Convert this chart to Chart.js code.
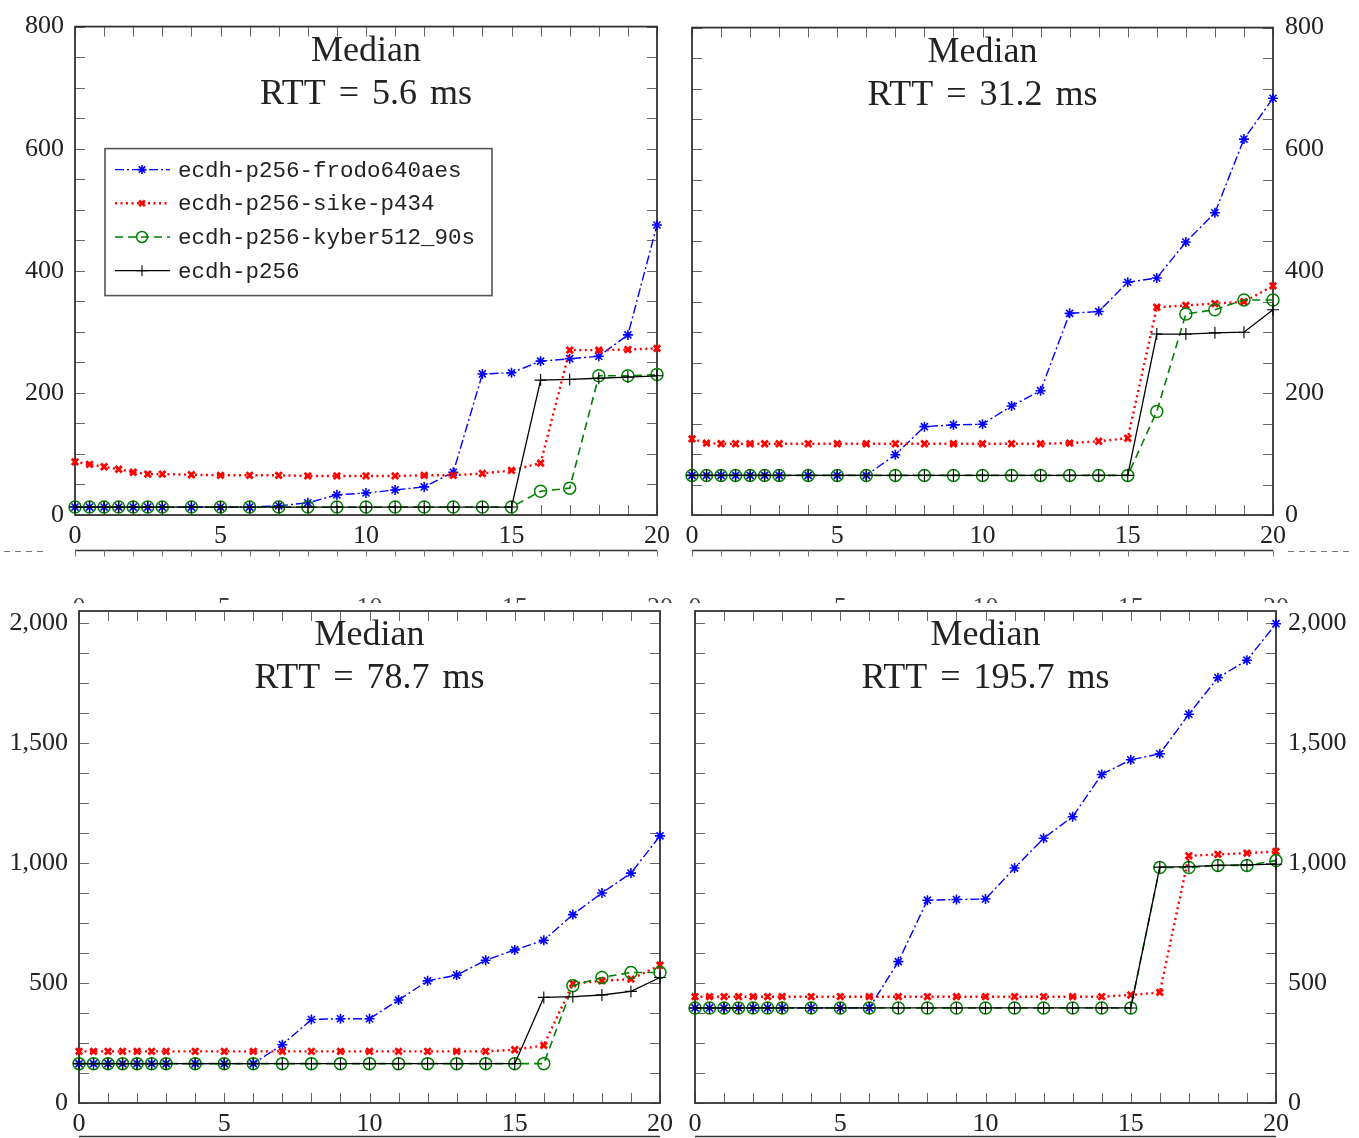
<!DOCTYPE html>
<html><head><meta charset="utf-8">
<script src="https://cdn.jsdelivr.net/npm/chart.js@4.4.1/dist/chart.umd.min.js"></script>
<style>
html,body{margin:0;padding:0;background:#fff;}
#wrap{position:relative;width:1359px;height:1138px;overflow:hidden;background:#fff;}
canvas{position:absolute;left:0;top:0;}
</style></head><body><div id="wrap">
<canvas id="c1" width="1359" height="1138"></canvas>
<canvas id="c2" width="1359" height="1138"></canvas>
<canvas id="c3" width="1359" height="1138"></canvas>
<canvas id="c4" width="1359" height="1138"></canvas>
</div>
<script>
// ---- data ----
const xValues = [0,0.5,1,1.5,2,2.5,3,4,5,6,7,8,9,10,11,12,13,14,15,16,17,18,19,20];
const seriesNames = ['ecdh-p256-frodo640aes','ecdh-p256-sike-p434','ecdh-p256-kyber512_90s','ecdh-p256'];
const panelHeading = 'Median';
const panelRtt = ['RTT = 5.6 ms','RTT = 31.2 ms','RTT = 78.7 ms','RTT = 195.7 ms'];
const xTickValues = [0,5,10,15,20];
const yTicksTop = [0,200,400,600,800];
const yTicksBottom = [0,500,1000,1500,2000];

// RTT 5.6 ms
const frodo1 = [13,13,13,13,13,13,13,13,13,13,15,20,33,36,41,46,70,231,233,252,256,260,295,475];
const sike1  = [87,83,79,75,70,67,67,66,65,65,65,64,64,64,64,65,65,68,73,85,270,270,271,273];
const kyber1 = [13,13,13,13,13,13,13,13,13,13,13,13,13,13,13,13,13,13,13,39,44,228,228,230];
const ecdh1  = [13,13,13,13,13,13,13,13,13,13,13,13,13,13,13,13,13,13,13,221,222,224,226,228];
// RTT 31.2 ms
const frodo2 = [65,65,65,65,65,65,65,65,65,65,99,145,148,149,179,204,331,334,382,389,448,496,617,684];
const sike2  = [125,118,117,117,117,117,117,117,117,117,117,117,117,117,117,117,118,121,126,341,344,347,350,376];
const kyber2 = [65,65,65,65,65,65,65,65,65,65,65,65,65,65,65,65,65,65,65,170,330,337,353,353];
const ecdh2  = [65,65,65,65,65,65,65,65,65,65,65,65,65,65,65,65,65,65,65,297,297,299,300,337];
// RTT 78.7 ms
const frodo3 = [164,164,164,164,164,164,164,164,164,164,243,348,351,351,429,509,533,595,638,678,785,875,958,1113];
const sike3  = [215,215,215,215,215,215,215,215,215,215,215,215,215,215,215,215,215,215,222,240,498,509,516,574];
const kyber3 = [164,164,164,164,164,164,164,164,164,164,164,164,164,164,164,164,164,164,164,164,489,523,544,544];
const ecdh3  = [164,164,164,164,164,164,164,164,164,164,164,164,164,164,164,164,164,164,164,440,443,450,465,523];
// RTT 195.7 ms
const frodo4 = [396,396,396,396,396,396,396,396,396,396,589,845,848,850,979,1103,1193,1369,1430,1455,1620,1772,1845,1997];
const sike4  = [443,443,443,443,443,443,443,443,443,443,443,443,443,443,443,443,443,443,450,461,1030,1036,1041,1048];
const kyber4 = [396,396,396,396,396,396,396,396,396,396,396,396,396,396,396,396,396,396,396,981,981,990,990,1010];
const ecdh4  = [396,396,396,396,396,396,396,396,396,396,396,396,396,396,396,396,396,396,396,983,985,990,992,995];

// ---- styles ----
const seriesStyles = [
  {color:'#0000ff', width:1.4, dash:[9,3,2,3], point:'star', radius:5, pbw:1.6, order:4},
  {color:'#ff0000', width:2.4, dash:[2,3.5], point:'crossRot', radius:4.5, pbw:2.8, order:3},
  {color:'#008000', width:1.6, dash:[8,5], point:'circle', radius:6, pbw:1.5, order:2},
  {color:'#000000', width:1.3, dash:[], point:'cross', radius:6, pbw:1.1, order:1}
];
const SERIF = '"Liberation Serif", "Times New Roman", serif';
const MONO = '"Liberation Mono", "DejaVu Sans Mono", monospace';

function makeDatasets(arrs){
  return arrs.map((arr,i)=>{
    const s = seriesStyles[i];
    return {
      label: seriesNames[i],
      data: xValues.map((x,k)=>({x:x, y:arr[k]})),
      borderColor: s.color, backgroundColor: s.color,
      borderWidth: s.width, borderDash: s.dash,
      pointStyle: s.point, pointRadius: s.radius, pointBorderWidth: s.pbw,
      pointBorderColor: s.color,
      pointBackgroundColor: s.point==='circle' ? 'rgba(0,0,0,0)' : s.color,
      tension: 0, fill:false, clip:false, order: s.order
    };
  });
}

const framePlugin = {
  id:'frame',
  beforeDatasetsDraw(chart, args, opts){
    const ctx = chart.ctx, a = chart.chartArea;
    const xs = chart.scales.x, ys = chart.scales.y;
    ctx.save();
    ctx.strokeStyle = '#666'; ctx.lineWidth = 1;
    const TL = 10;
    for (let v = 0; v <= 20; v += 1){
      const px = Math.round(xs.getPixelForValue(v))+0.5;
      ctx.beginPath(); ctx.moveTo(px, a.bottom); ctx.lineTo(px, a.bottom-TL);
      ctx.moveTo(px, a.top); ctx.lineTo(px, a.top+TL); ctx.stroke();
    }
    for (let v = 0; v <= opts.yMinorMax; v += opts.yMinor){
      const py = Math.round(ys.getPixelForValue(v))+0.5;
      ctx.beginPath(); ctx.moveTo(a.left, py); ctx.lineTo(a.left+TL, py);
      ctx.moveTo(a.right, py); ctx.lineTo(a.right-TL, py); ctx.stroke();
    }
    ctx.strokeStyle = '#333'; ctx.lineWidth = 1.8;
    ctx.strokeRect(a.left, a.top, a.right-a.left, a.bottom-a.top);
    ctx.restore();
  },
  afterDraw(chart, args, opts){
    const ctx = chart.ctx, a = chart.chartArea;
    const xs = chart.scales.x;
    const cx = (a.left + a.right)/2;
    ctx.save();
    ctx.fillStyle = '#222';
    ctx.textAlign = 'center'; ctx.textBaseline = 'middle';
    ctx.font = '36px ' + SERIF;
    ctx.fillText(panelHeading, cx, a.top + 25);
    ctx.wordSpacing = '4px';
    ctx.fillText(opts.rtt, cx, a.top + 68);
    ctx.wordSpacing = '0px';

    // stray remnants of neighbouring axes (from the source image)
    ctx.strokeStyle = '#333'; ctx.lineWidth = 1.6;
    if (opts.row === 0){
      const ly = a.bottom + 35.5;
      ctx.beginPath(); ctx.moveTo(a.left, ly); ctx.lineTo(a.right, ly); ctx.stroke();
      ctx.lineWidth = 1; ctx.strokeStyle = '#777';
      for (let v = 0; v <= 20; v += 1){
        const px = Math.round(xs.getPixelForValue(v))+0.5;
        ctx.beginPath(); ctx.moveTo(px, ly); ctx.lineTo(px, ly+6); ctx.stroke();
      }
      ctx.setLineDash([6,5]);
      ctx.beginPath();
      if (opts.side === 'left'){ ctx.moveTo(4, ly+1); ctx.lineTo(46, ly+1); }
      else { ctx.moveTo(a.right+15, ly+1); ctx.lineTo(a.right+77, ly+1); }
      ctx.stroke();
      ctx.setLineDash([]);
    } else {
      const ly = a.bottom + 33.5;
      ctx.beginPath(); ctx.moveTo(a.left, ly); ctx.lineTo(a.right, ly); ctx.stroke();
      // clipped labels of a hidden axis above the panel
      ctx.save();
      ctx.beginPath(); ctx.rect(a.left-30, a.top-14, a.right-a.left+60, 6); ctx.clip();
      ctx.fillStyle = '#444'; ctx.font = '26px ' + SERIF; ctx.textBaseline = 'top';
      xTickValues.forEach(v=>{ ctx.fillText(String(v), xs.getPixelForValue(v), a.top-16); });
      ctx.restore();
    }

    if (opts.legend){
      const bx = a.left + 30, by = a.top + 122, bw = 387, bh = 147;
      ctx.fillStyle = '#fff'; ctx.fillRect(bx, by, bw, bh);
      ctx.strokeStyle = '#555'; ctx.lineWidth = 1.6; ctx.strokeRect(bx, by, bw, bh);
      ctx.font = '22.5px ' + MONO; ctx.textAlign = 'left'; ctx.textBaseline = 'middle';
      chart.data.datasets.forEach((ds,i)=>{
        const s = seriesStyles[i];
        const ry = by + 21 + i*33.7;
        ctx.strokeStyle = s.color; ctx.lineWidth = s.width; ctx.setLineDash(s.dash);
        ctx.beginPath(); ctx.moveTo(bx+10, ry); ctx.lineTo(bx+65, ry); ctx.stroke();
        ctx.setLineDash([]);
        ctx.fillStyle = s.point==='circle' ? 'rgba(0,0,0,0)' : s.color;
        ctx.lineWidth = s.pbw;
        Chart.helpers.drawPoint(ctx, {pointStyle:s.point, radius:s.radius-0.5, rotation:0, borderWidth:s.pbw}, bx+37, ry);
        ctx.fillStyle = '#222';
        ctx.fillText(ds.label, bx+73, ry+1);
      });
    }
    ctx.restore();
  }
};

function makeChart(id, arrs, cfg){
  const yTicks = cfg.yTicks;
  return new Chart(document.getElementById(id), {
    type:'line',
    data:{datasets: makeDatasets(arrs)},
    plugins:[framePlugin],
    options:{
      responsive:false, animation:false, devicePixelRatio:1,
      events:[],
      layout:{padding:cfg.padding},
      plugins:{
        legend:{display:false}, tooltip:{enabled:false}, title:{display:false},
        frame:{rtt:cfg.rtt, legend:cfg.legend, yMinor:cfg.yMinor, yMinorMax:cfg.yMinorMax, row:cfg.row, side:cfg.side}
      },
      scales:{
        x:{type:'linear', position:'bottom', min:0, max:20,
           grid:{display:false, drawTicks:false}, border:{display:false},
           ticks:{font:{family:SERIF, size:26}, color:'#222', padding:6, maxRotation:0, autoSkip:false},
           afterBuildTicks:s=>{ s.ticks = xTickValues.map(v=>({value:v})); },
           afterFit:s=>{ s.height = 30; }},
        y:{type:'linear', position:cfg.side, min:0, max:cfg.yMax,
           grid:{display:false, drawTicks:false}, border:{display:false},
           ticks:{font:{family:SERIF, size:26}, color:'#222', padding:cfg.side==='left'?11:12,
                  callback:v=>Number(v).toLocaleString('en-US')},
           afterBuildTicks:s=>{ s.ticks = yTicks.map(v=>({value:v})); },
           afterFit:s=>{ s.width = cfg.yWidth; }}
      }
    }
  });
}

makeChart('c1', [frodo1,sike1,kyber1,ecdh1], {rtt:panelRtt[0], legend:true, yTicks:yTicksTop, yMax:800, yMinor:50, yMinorMax:800, row:0, side:'left', yWidth:70,
  padding:{left:5, right:702, top:24, bottom:593}});
makeChart('c2', [frodo2,sike2,kyber2,ecdh2], {rtt:panelRtt[1], legend:false, yTicks:yTicksTop, yMax:800, yMinor:50, yMinorMax:800, row:0, side:'right', yWidth:80,
  padding:{left:692, right:6, top:24, bottom:593}});
makeChart('c3', [frodo3,sike3,kyber3,ecdh3], {rtt:panelRtt[2], legend:false, yTicks:yTicksBottom, yMax:2050, yMinor:125, yMinorMax:2050, row:1, side:'left', yWidth:76,
  padding:{left:3, right:699, top:611, bottom:5}});
makeChart('c4', [frodo4,sike4,kyber4,ecdh4], {rtt:panelRtt[3], legend:false, yTicks:yTicksBottom, yMax:2050, yMinor:125, yMinorMax:2050, row:1, side:'right', yWidth:80,
  padding:{left:695, right:3, top:611, bottom:5}});
</script>
</body></html>
